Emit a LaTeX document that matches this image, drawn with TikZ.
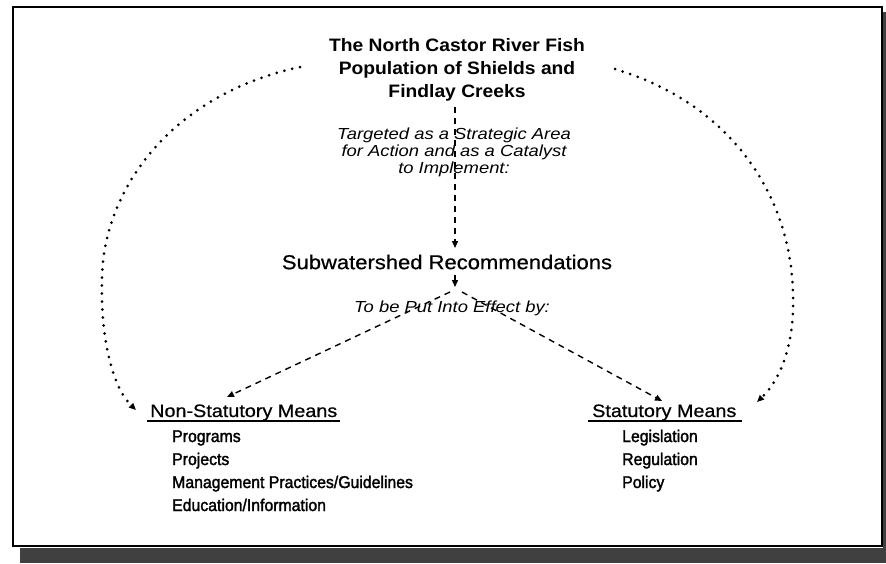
\documentclass[tikz,border=0pt]{standalone}
\usepackage{fontspec}
\setmainfont{Liberation Sans}
\newfontfamily\titlefont[FakeStretch=1.07]{Liberation Sans}
\newfontfamily\notefont[FakeStretch=1.15]{Liberation Sans}
\newfontfamily\midfont[FakeStretch=1.1,FakeBold=0.6]{Liberation Sans}
\newfontfamily\headfont[FakeStretch=1.1,FakeBold=0.6]{Liberation Sans}
\newfontfamily\narrowfont[FakeStretch=0.93,FakeBold=1.8]{Liberation Sans}
\usetikzlibrary{arrows.meta}
\begin{document}
\begin{tikzpicture}[x=1pt,y=-1pt,
  title/.style={font=\titlefont\fontsize{18}{23}\selectfont\bfseries, align=center, inner sep=0pt},
  note/.style={font=\notefont\fontsize{16}{17}\selectfont\itshape, align=center, inner sep=0pt},
  mid/.style={font=\midfont\fontsize{20}{23}\selectfont, inner sep=0pt},
  head/.style={font=\headfont\fontsize{18}{20}\selectfont, inner sep=0pt, anchor=base west},
  item/.style={font=\narrowfont\fontsize{17}{20}\selectfont, inner sep=0pt, anchor=base west},
  dash line/.style={line width=1.4pt, dash pattern=on 6pt off 5pt, -{Triangle[length=7pt,width=6pt]}},
  dot line/.style={line width=3pt, dash pattern=on 0pt off 8pt, line cap=round, -{Triangle[length=7pt,width=6pt]}},
]
\useasboundingbox (0,0) rectangle (886,563);
% shadow
\fill[black!75] (20,548) rectangle (886,563);
\fill[black!75] (883,12) rectangle (886,563);
% frame
\draw[line width=2.5pt, fill=white] (13,7) rectangle (882,546);

\node[title] (t) at (457,70) {The North Castor River Fish\\Population of Shields and\\Findlay Creeks};
\node[note] (n1) at (454,152) {Targeted as a Strategic Area\\for Action and as a Catalyst\\to Implement:};
\node[mid] (s) at (447,262) {Subwatershed Recommendations};
\node[note] (n2) at (452,308) {To be Put Into Effect by:};

\node[head] (ns) at (150,417) {Non-Statutory Means};
\draw[line width=1.3pt] (ns.base west) ++(-3,4) -- ([xshift=3pt,yshift=-4pt]ns.base east);
\node[item] (p1) at (172,442) {Programs};
\node[item] (p2) at (172,465) {Projects};
\node[item] (p3) at (172,488) {Management Practices/Guidelines};
\node[item] (p4) at (172,511) {Education/Information};

\node[head] (st) at (592,417) {Statutory Means};
\draw[line width=1.3pt] (st.base west) ++(-4,4) -- ([xshift=5pt,yshift=-4pt]st.base east);
\node[item] (l1) at (622,442) {Legislation};
\node[item] (l2) at (622,465) {Regulation};
\node[item] (l3) at (622,488) {Policy};

\coordinate (a1) at (455,107);
\coordinate (a2) at (455,248);
\coordinate (b1) at (455,275);
\coordinate (b2) at (455,287);
\coordinate (c0) at (450,292);
\coordinate (c1) at (227,397);
\coordinate (d0) at (462,292);
\coordinate (d1) at (662,401);

\draw[dash line] (a1) -- (a2);
\draw[dash line] (b1) -- (b2);
\draw[dash line] (c0) -- (c1);
\draw[dash line] (d0) -- (d1);

\coordinate (l0) at (300,67);
\coordinate (lm) at (102,277);
\coordinate (le) at (136,410);
\coordinate (r0) at (615,69);
\coordinate (rm) at (793,293);
\coordinate (re) at (757,402);
\draw[dot line] (l0) .. controls (170,95) and (104,190) .. (lm) .. controls (100,345) and (115,390) .. (le);
\draw[dot line] (r0) .. controls (735,105) and (791,200) .. (rm) .. controls (795,345) and (780,380) .. (re);
\end{tikzpicture}
\end{document}
